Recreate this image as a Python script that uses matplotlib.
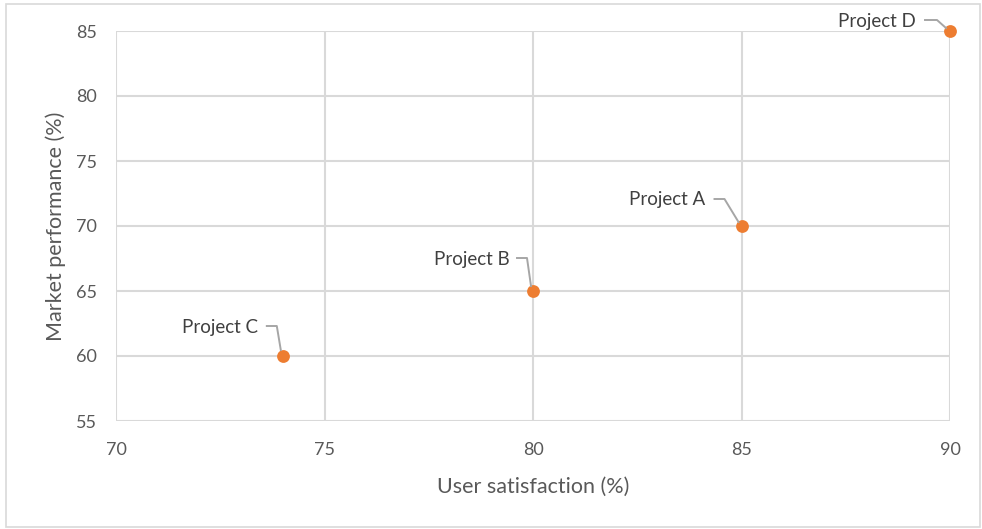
import matplotlib
matplotlib.use("Agg")
import matplotlib.pyplot as plt
from matplotlib.lines import Line2D
from matplotlib.patches import Rectangle

# Data
projects = ["Project A", "Project B", "Project C", "Project D"]
user_satisfaction = [85, 80, 74, 90]
market_performance = [70, 65, 60, 85]
x_ticks = [70, 75, 80, 85, 90]
y_ticks = [55, 60, 65, 70, 75, 80, 85]

# Label placement (pixel offsets from each point): text anchor, leader path
label_offsets = {
    "Project A": (-36, 27),
    "Project B": (-23, 32),
    "Project C": (-25, 28),
    "Project D": (-34, 10),
}
leader_paths = {
    "Project A": [(-27, 27), (-17, 27), (-3, 4)],
    "Project B": [(-16, 33), (-6, 33), (-2, 5)],
    "Project C": [(-16, 30), (-6, 30), (-2, 6)],
    "Project D": [(-25, 11), (-13, 11), (-4, 3)],
}

W, H = 982, 529
fig = plt.figure(figsize=(W / 100, H / 100), dpi=100)
font = "Lato"
plt.rcParams["font.family"] = [font, "DejaVu Sans"]

ax = fig.add_axes([116 / W, 1 - 421 / H, (950 - 116) / W, (421 - 31) / H])
ax.set_xlim(70, 90)
ax.set_ylim(55, 85)
ax.set_xticks(x_ticks)
ax.set_yticks(y_ticks)
ax.grid(True, color="#D9D9D9", linewidth=1.5)
ax.set_axisbelow(True)
for s in ax.spines.values():
    s.set_visible(False)
ax.tick_params(length=0, labelsize=13, labelcolor="#595959")
ax.tick_params(axis="y", pad=14)
ax.tick_params(axis="x", pad=15)
ax.set_xlabel("User satisfaction (%)", fontsize=15.5, color="#595959", labelpad=14)
ax.set_ylabel("Market performance (%)", fontsize=15.5, color="#595959", labelpad=7)

ax.scatter(user_satisfaction, market_performance, s=85, color="#ED7D31",
           zorder=3, linewidths=0, clip_on=False)

for name, x, y in zip(projects, user_satisfaction, market_performance):
    px, py = ax.transData.transform((x, y))
    dx, dy = label_offsets[name]
    fig.text((px + dx) / W, (py + dy) / H, name, ha="right", va="center",
             fontsize=13.5, color="#404040")
    path = leader_paths[name]
    fig.add_artist(Line2D([(px + a) / W for a, b in path],
                          [(py + b) / H for a, b in path],
                          transform=fig.transFigure, color="#A6A6A6",
                          linewidth=1.4, zorder=2))

fig.add_artist(Rectangle((6 / W, 2 / H), (980 - 6) / W, (525 - 2) / H,
                         transform=fig.transFigure, fill=False,
                         edgecolor="#D9D9D9", linewidth=1.2))

fig.savefig("out.png", dpi=100)
